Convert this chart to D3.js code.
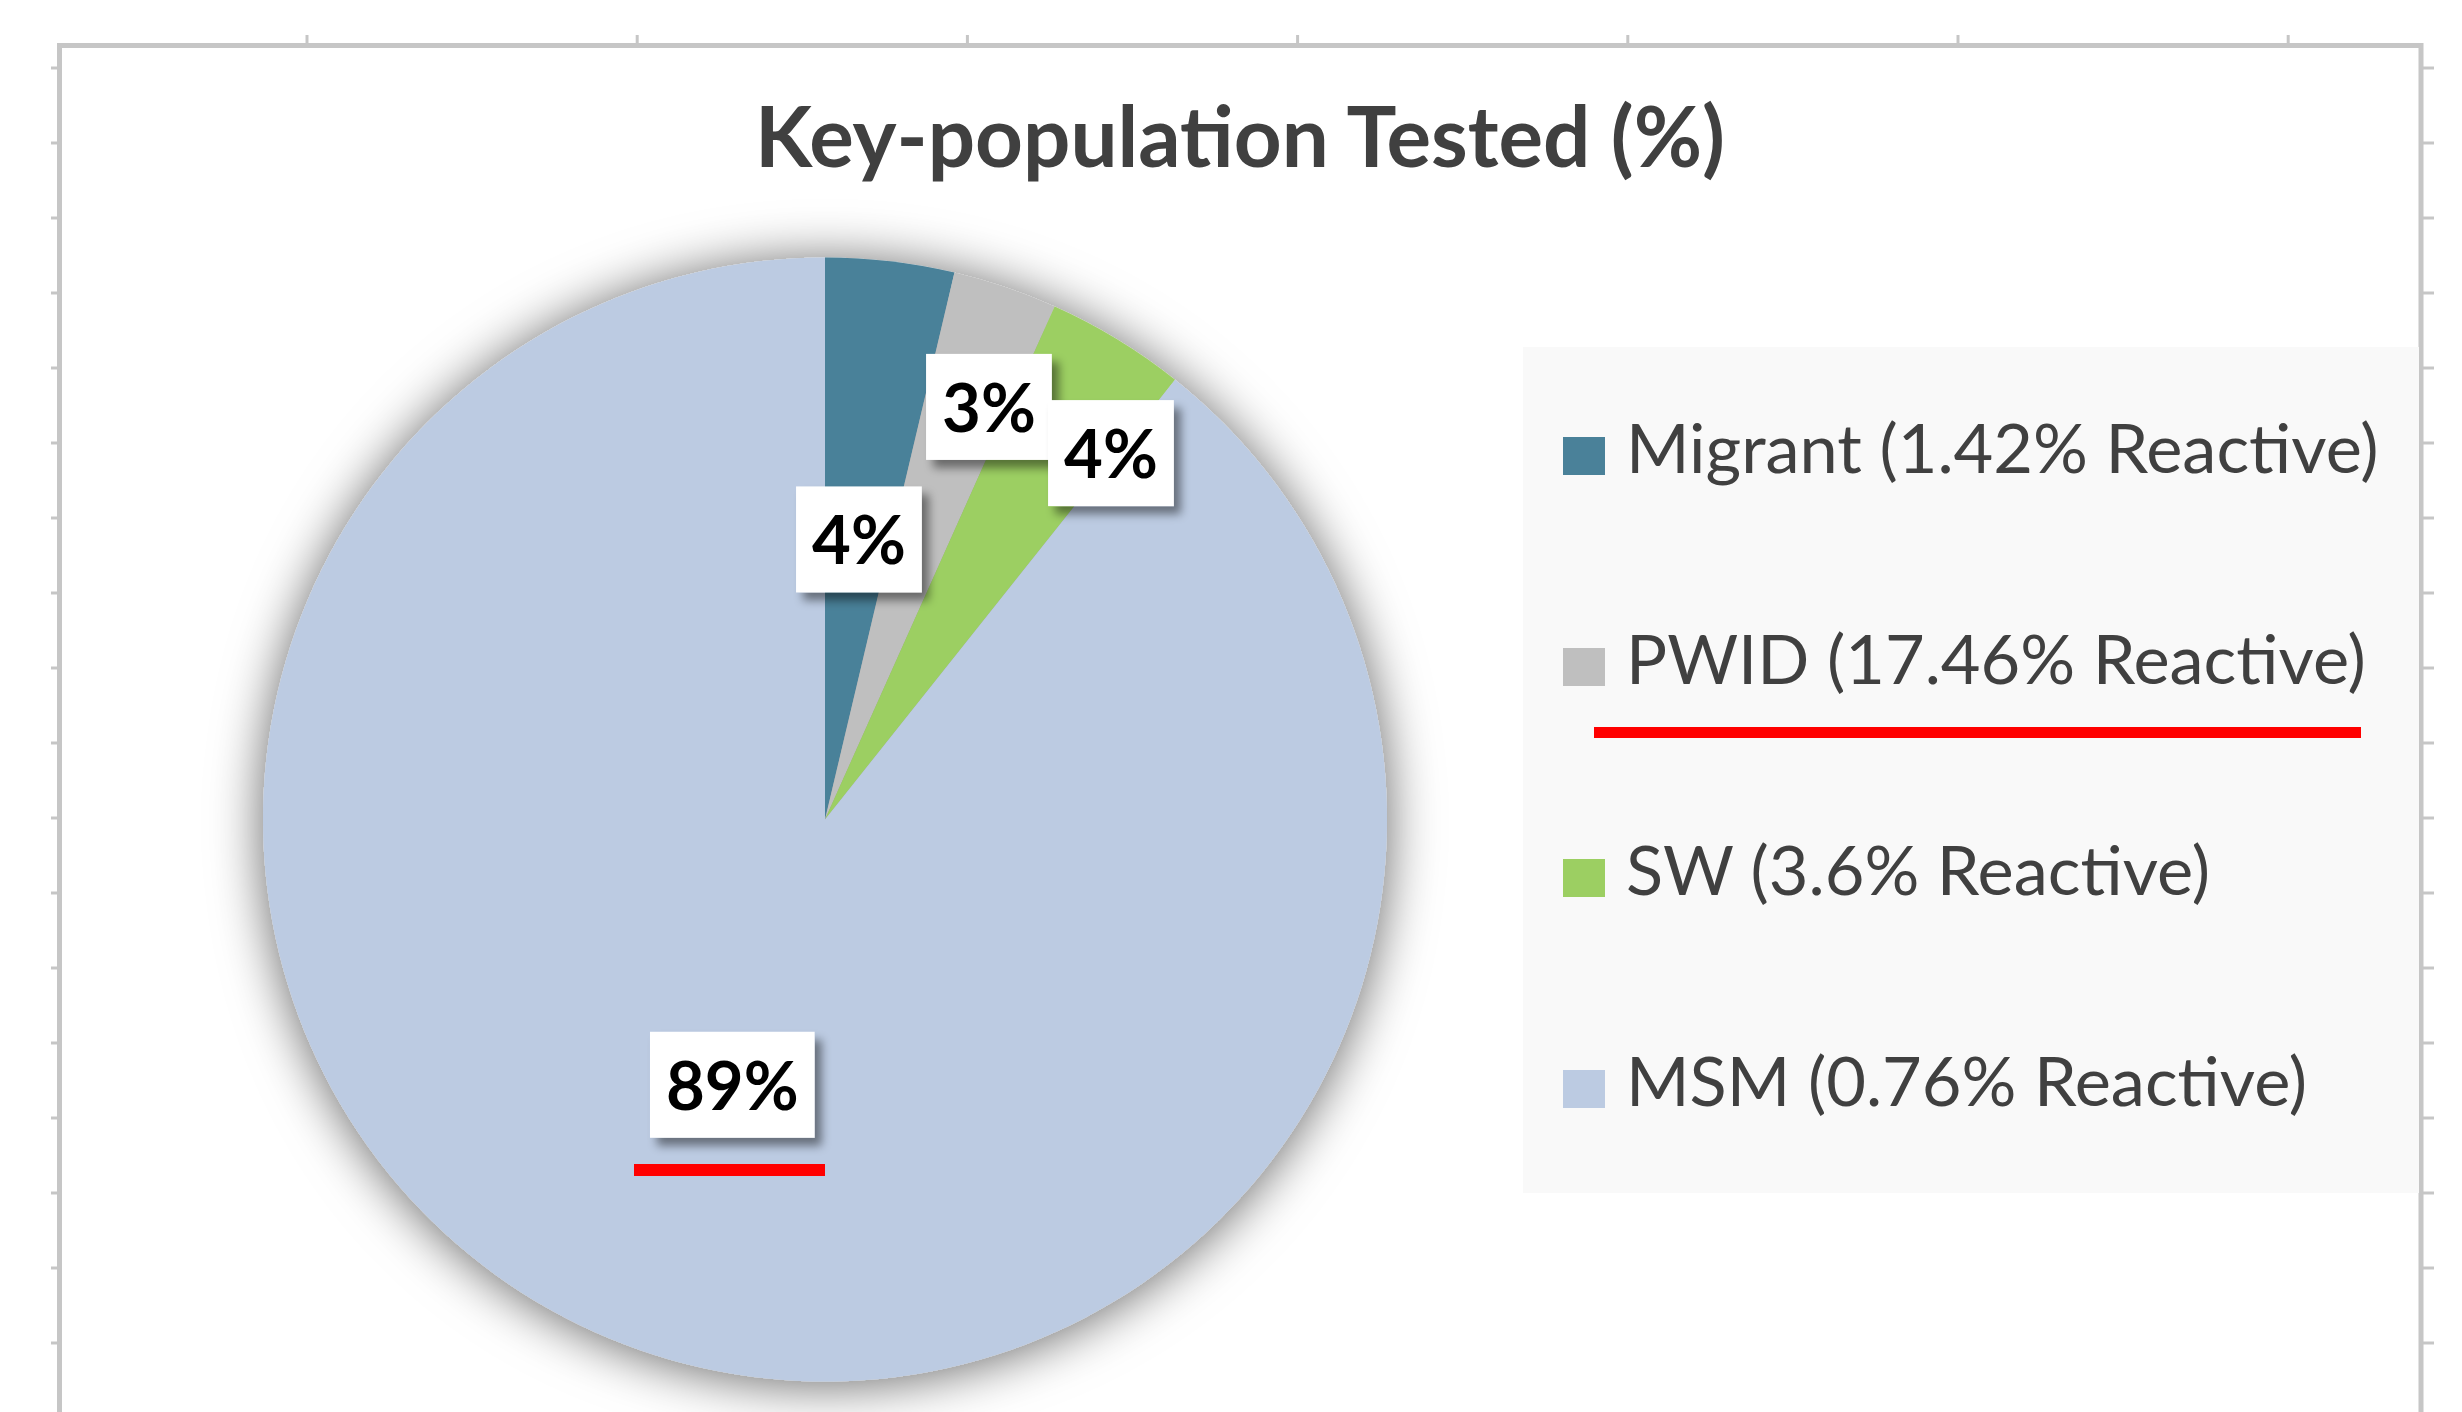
<!DOCTYPE html>
<html>
<head>
<meta charset="utf-8">
<script src="https://cdn.jsdelivr.net/npm/d3@7/dist/d3.min.js"></script>
<style>
  html, body { margin: 0; padding: 0; background: #ffffff; }
  svg { display: block; }
</style>
</head>
<body>
<svg id="chart" width="2462" height="1412"></svg>
<script>
// ---------------- data ----------------
const title = "Key-population Tested (%)";
const categories = ["Migrant", "PWID", "SW", "MSM"];
const reactiveRates = ["1.42%", "17.46%", "3.6%", "0.76%"];
const testedShare = [3.7, 3.0, 4.0, 89.3];
const sliceColors = ["#4a8199", "#bfbfbf", "#9ccf62", "#bccbe2"];

// ---------------- layout ----------------
const W = 2462, H = 1412;
const cx = 825, cy = 819.5, R = 562;
// label placement (fraction of radius, angle nudge in degrees) like Excel's best fit
const labelRadius = [0.502, 0.79, 0.827, 0.5];
const labelNudge = [0.25, 2.95, 6.65, 0];
const labelBoxH = 106, labelPadX = 16;
const legendTargetWidths = [764, 728, 583, 683];

const svg = d3.select("#chart");
const defs = svg.append("defs");

const pieShadow = defs.append("filter").attr("id", "pieShadow")
  .attr("x", "-30%").attr("y", "-30%").attr("width", "160%").attr("height", "160%");
pieShadow.append("feDropShadow").attr("dx", 0).attr("dy", 3)
  .attr("stdDeviation", 26).attr("flood-color", "#000").attr("flood-opacity", 0.6);

const boxShadow = defs.append("filter").attr("id", "boxShadow")
  .attr("x", "-30%").attr("y", "-30%").attr("width", "160%").attr("height", "160%");
boxShadow.append("feDropShadow").attr("dx", 7).attr("dy", 8)
  .attr("stdDeviation", 5).attr("flood-color", "#000").attr("flood-opacity", 0.45);

// ---------------- sheet frame with cell ticks ----------------
const frameColor = "#c6c6c6";
const frame = svg.append("g");
frame.append("line").attr("x1", 57).attr("x2", 2423).attr("y1", 45.5).attr("y2", 45.5)
  .attr("stroke", frameColor).attr("stroke-width", 5);
frame.append("line").attr("x1", 59.5).attr("x2", 59.5).attr("y1", 43).attr("y2", H)
  .attr("stroke", frameColor).attr("stroke-width", 5);
frame.append("line").attr("x1", 2421).attr("x2", 2421).attr("y1", 43).attr("y2", H)
  .attr("stroke", frameColor).attr("stroke-width", 5);
const rowTicks = d3.range(68, H, 75);
const colTicks = d3.range(307, 2420, 330.2);
frame.selectAll(".lt").data(rowTicks).join("line")
  .attr("x1", 51).attr("x2", 58).attr("y1", d => d).attr("y2", d => d)
  .attr("stroke", frameColor).attr("stroke-width", 3);
frame.selectAll(".rt").data(rowTicks).join("line")
  .attr("x1", 2422).attr("x2", 2434).attr("y1", d => d).attr("y2", d => d)
  .attr("stroke", frameColor).attr("stroke-width", 3);
frame.selectAll(".tt").data(colTicks).join("line")
  .attr("x1", d => d).attr("x2", d => d).attr("y1", 35).attr("y2", 44)
  .attr("stroke", frameColor).attr("stroke-width", 3);

// ---------------- title ----------------
function fitWidth(sel, target) {
  const w = sel.node().getComputedTextLength();
  const fs = parseFloat(sel.attr("font-size"));
  const nfs = fs * target / w;
  sel.attr("font-size", nfs);
  return nfs;
}
const titleText = svg.append("text")
  .attr("x", 1240).attr("y", 167).attr("text-anchor", "middle")
  .attr("font-family", "Lato, 'Open Sans', sans-serif").attr("font-weight", 700)
  .attr("font-size", 80).attr("fill", "#404040").text(title);
fitWidth(titleText, 970);

// ---------------- pie ----------------
const pie = d3.pie().sort(null).value(d => d).startAngle(0).endAngle(2 * Math.PI);
const arcs = pie(testedShare);
const arc = d3.arc().innerRadius(0).outerRadius(R);
const color = d3.scaleOrdinal().domain(categories).range(sliceColors);

const pieG = svg.append("g").attr("transform", `translate(${cx},${cy})`);
pieG.append("g").attr("filter", "url(#pieShadow)")
  .selectAll("path").data(arcs).join("path")
  .attr("d", arc)
  .attr("fill", (d, i) => color(categories[i]));

// ---------------- data labels ----------------
const labelG = pieG.append("g");
arcs.forEach((d, i) => {
  const a = (d.startAngle + d.endAngle) / 2 + labelNudge[i] * Math.PI / 180;
  const r = R * labelRadius[i];
  const x = r * Math.sin(a), y = -r * Math.cos(a);
  const g = labelG.append("g").attr("transform", `translate(${x},${y})`);
  const rect = g.append("rect").attr("fill", "#ffffff").attr("filter", "url(#boxShadow)");
  const t = g.append("text")
    .attr("text-anchor", "middle").attr("dominant-baseline", "central")
    .attr("font-family", "Lato, 'Open Sans', sans-serif").attr("font-weight", 700)
    .attr("font-size", 67).attr("fill", "#000")
    .text(Math.round(d.data) + "%");
  const tw = t.node().getComputedTextLength();
  const bw = tw + 2 * labelPadX;
  rect.attr("x", -bw / 2).attr("y", -labelBoxH / 2).attr("width", bw).attr("height", labelBoxH);
  t.attr("y", -1);
});

// ---------------- legend ----------------
svg.append("rect")
  .attr("x", 1523).attr("y", 347).attr("width", 2419 - 1523).attr("height", 1193 - 347)
  .attr("fill", "#f9f9f9");
const legendY = d3.scalePoint().domain(categories).range([456, 1089]);
const legendG = svg.append("g");
const items = legendG.selectAll("g").data(categories).join("g")
  .attr("transform", d => `translate(0,${legendY(d)})`);
items.append("rect").attr("x", 1563).attr("y", -19).attr("width", 42).attr("height", 38)
  .attr("fill", d => color(d));
const legendTexts = items.append("text")
  .attr("x", 1626).attr("y", 17)
  .attr("font-family", "Lato, 'Open Sans', sans-serif").attr("font-weight", 400)
  .attr("font-size", 64).attr("fill", "#404040")
  .text((d, i) => `${d} (${reactiveRates[i]} Reactive)`);
// one common size that best matches the measured widths of all entries
const measured = legendTexts.nodes().map(n => n.getComputedTextLength());
const ratio = d3.sum(legendTargetWidths) / d3.sum(measured);
legendTexts.attr("font-size", 64 * ratio);

// ---------------- red annotation underlines ----------------
svg.append("rect").attr("x", 1594).attr("y", 727).attr("width", 2361 - 1594).attr("height", 11)
  .attr("fill", "#ff0000");
svg.append("rect").attr("x", 634).attr("y", 1164).attr("width", 825 - 634).attr("height", 12)
  .attr("fill", "#ff0000");
</script>
</body>
</html>
